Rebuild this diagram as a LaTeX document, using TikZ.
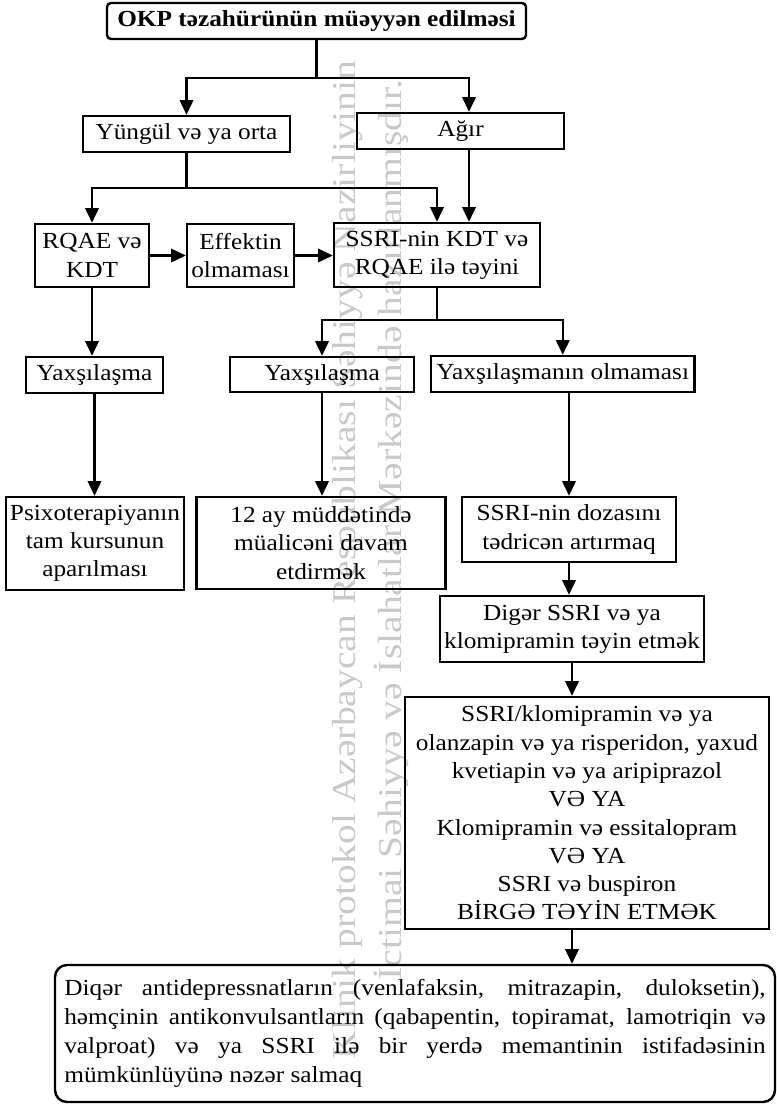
\documentclass[tikz,border=0pt]{standalone}
\usepackage{fontspec}
\setmainfont{Liberation Serif}[FakeStretch=1.10]
\usetikzlibrary{arrows.meta,calc}
\begin{document}
\begin{tikzpicture}[x=0.75pt,y=-0.75pt]
\tikzset{
  txt/.style={font=\fontsize{17.25pt}{21.2pt}\selectfont},
  bx/.style={draw, line width=1.8pt, inner sep=0pt, align=center, txt},
  wh/.style 2 args={minimum width=#1*0.75pt, minimum height=#2*0.75pt},
  ln/.style={line width=1.8pt},
  arr/.style={line width=1.8pt, -{Triangle[length=11pt,width=10pt]}},
  wm/.style={text=black!21, inner sep=0pt, rotate=90, anchor=base,
    font=\fontsize{25pt}{30pt}\selectfont\addfontfeature{FakeStretch=1.19}}
}
\useasboundingbox (0,0) rectangle (777,1106);
% watermark
\node[wm] (wm1) at (355,560) {Klinik protokol Azərbaycan Respublikası Səhiyyə Nazirliyinin};
\node[wm] (wm2) at (401,530) {İctimai Səhiyyə və İslahatlar Mərkəzində hazırlanmışdır.};
% boxes
\node[bx, wh={419}{36}, rounded corners=3pt] (top) at (316.5,21) {\textbf{OKP təzahürünün müəyyən edilməsi}};
\node[bx, wh={207}{36}] (yung) at (186.5,134) {Yüngül və ya orta};
\node[bx, wh={207}{36}] (agir) at (460.5,131) {Ağır};
\node[bx, wh={114}{63}] (rqae) at (92,255.5) {RQAE və\\KDT};
\node[bx, wh={107}{63}] (eff) at (240.5,255.5) {Effektin\\olmaması};
\node[bx, wh={206}{64}] (ssri) at (437,255) {SSRI-nin KDT və\\RQAE ilə təyini};
\node[bx, wh={137}{36}] (yax1) at (94.5,375) {Yaxşılaşma};
\node[bx, wh={184.5}{35}] (yax2) at (322,374.5) {Yaxşılaşma};
\node[bx, wh={263.5}{36}] (yaxo) at (562.75,374) {Yaxşılaşmanın olmaması};
\node[bx, wh={178}{93}] (psixo) at (95,543.5) {Psixoterapiyanın\\tam kursunun\\aparılması};
\node[bx, wh={249}{92}] (ay12) at (321,543) {12 ay müddətində\\müalicəni davam\\etdirmək};
\node[bx, wh={214}{65}] (doz) at (569,529.5) {SSRI-nin dozasını\\tədricən artırmaq};
\node[bx, wh={264}{66}] (diger) at (572,629) {Digər SSRI və ya\\klomipramin təyin etmək};
\node[bx, wh={364}{232}] (big) at (587,813) {SSRI/klomipramin və ya\\olanzapin və ya risperidon, yaxud\\kvetiapin və ya aripiprazol\\VƏ YA\\Klomipramin və essitalopram\\VƏ YA\\SSRI və buspiron\\BİRGƏ TƏYİN ETMƏK};
\node[draw, line width=1.8pt, rounded corners=9pt, font=\fontsize{17.25pt}{21.9pt}\selectfont,
      text width=526pt, align=justify,
      inner xsep=7pt, inner ysep=0pt, minimum height=137*0.75pt] (bottom) at (415,1033.5)
  {Diqər antidepressnatların (venlafaksin, mitrazapin, duloksetin),\linebreak
   həmçinin antikonvulsantların (qabapentin, topiramat, lamotriqin və\linebreak
   valproat) və ya SSRI ilə bir yerdə memantinin istifadəsinin\linebreak
   mümkünlüyünə nəzər salmaq};
% junctions
\coordinate (j1) at (316.5,78);
\coordinate (j2) at (186.5,188);
\coordinate (j3) at (437,320);
% connectors
\draw[ln] (top.south) -- (j1);
\draw[arr] (j1) -| (yung.north);
\draw[arr] (j1) -| ($(agir.north)+(8.5,0)$);
\draw[ln] (yung.south) -- (j2);
\draw[arr] (j2) -| (rqae.north);
\draw[arr] (j2) -| (ssri.north);
\draw[arr] ($(agir.south)+(8.5,0)$) coordinate (a1) -- (a1 |- ssri.north);
\draw[arr] (rqae.east) -- (eff.west);
\draw[arr] (eff.east) -- (eff.east -| ssri.west);
\draw[arr] (rqae.south) -- (rqae.south |- yax1.north);
\draw[ln] (ssri.south) -- (j3);
\draw[arr] (j3) -| (yax2.north);
\draw[arr] (j3) -| (yaxo.north);
\draw[arr] (yax1.south) -- (yax1.south |- psixo.north);
\draw[arr] (yax2.south) -- (yax2.south |- ay12.north);
\draw[arr] (yaxo.south -| doz.north) -- (doz.north);
\draw[arr] (doz.south) -- (doz.south |- diger.north);
\draw[arr] (diger.south) -- (diger.south |- big.north);
\draw[arr] (diger.south |- big.south) -- (diger.south |- bottom.north);
\end{tikzpicture}
\end{document}
